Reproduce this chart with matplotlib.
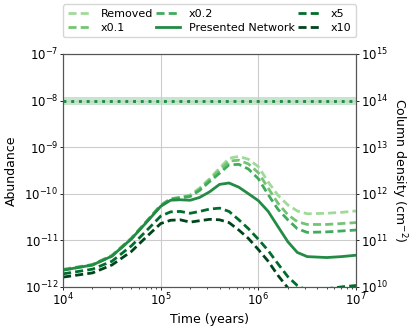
import matplotlib
matplotlib.use('Agg')
import matplotlib.pyplot as plt
import numpy as np

# time grid (years) and log10 abundances
time_yr = [1.0e4, 2.0e4, 3.16e4, 5.0e4, 7.1e4, 1.0e5, 1.26e5, 1.58e5, 2.0e5, 2.5e5,
           3.16e5, 4.0e5, 5.0e5, 6.3e5, 7.9e5, 1.0e6, 1.26e6, 1.58e6, 2.0e6, 2.5e6,
           3.16e6, 5.0e6, 7.1e6, 1.0e7]

removed = [-11.62, -11.52, -11.32, -10.95, -10.60, -10.24, -10.11, -10.08, -10.03, -9.88,
           -9.68, -9.45, -9.24, -9.20, -9.26, -9.42, -9.75, -10.03, -10.24, -10.37,
           -10.43, -10.42, -10.40, -10.37]
x0p1 = [-11.63, -11.52, -11.33, -10.96, -10.60, -10.25, -10.11, -10.08, -10.04, -9.90,
        -9.70, -9.50, -9.30, -9.28, -9.36, -9.55, -9.88, -10.20, -10.45, -10.60,
        -10.66, -10.66, -10.64, -10.62]
x0p2 = [-11.64, -11.53, -11.34, -10.97, -10.61, -10.26, -10.12, -10.09, -10.06, -9.93,
        -9.74, -9.56, -9.38, -9.37, -9.47, -9.68, -10.02, -10.33, -10.56, -10.75,
        -10.83, -10.82, -10.80, -10.78]
presented = [-11.64, -11.53, -11.34, -10.97, -10.62, -10.27, -10.14, -10.13, -10.14, -10.08,
             -9.96, -9.80, -9.77, -9.86, -10.00, -10.15, -10.38, -10.70, -11.03, -11.26,
             -11.35, -11.37, -11.35, -11.32]
x5 = [-11.72, -11.62, -11.45, -11.12, -10.80, -10.48, -10.39, -10.38, -10.42, -10.38,
      -10.33, -10.31, -10.38, -10.56, -10.75, -10.98, -11.22, -11.50, -11.78, -11.97,
      -12.08, -12.04, -12.00, -11.97]
x10 = [-11.79, -11.70, -11.53, -11.24, -10.93, -10.64, -10.57, -10.56, -10.61, -10.58,
       -10.55, -10.56, -10.62, -10.78, -10.96, -11.20, -11.45, -11.75, -12.02, -12.25,
       -12.38, -12.38, -12.33, -12.30]

labels = ['Removed', 'x0.1', 'x0.2', 'Presented Network', 'x5', 'x10']
observed = 1e-8
observed_lo, observed_hi = 0.8e-8, 1.2e-8
col_factor = 1e22  # abundance -> column density

colors = ['#a1d99b', '#74c476', '#41ab5d', '#238b45', '#006d2c', '#00441b']
dashed = [True, True, True, False, True, True]

fig = plt.figure(figsize=(4.15, 3.29), dpi=100)
ax = fig.add_axes([0.152, 0.128, 0.706, 0.708])

series = [removed, x0p1, x0p2, presented, x5, x10]
t = np.array(time_yr)
for s, lab, c, d in zip(series, labels, colors, dashed):
    if d:
        ax.plot(t, 10**np.array(s), color=c, lw=2, label=lab, dashes=(2.9, 1.5))
    else:
        ax.plot(t, 10**np.array(s), color=c, lw=2, label=lab)

ax.axhspan(observed_lo, observed_hi, color='#41ab5d', alpha=0.3, lw=0)
ax.axhline(observed, color='#238b45', ls=':', lw=2.1)

ax.set_xscale('log')
ax.set_yscale('log')
ax.set_xlim(1e4, 1e7)
ax.set_ylim(1e-12, 1e-7)
ax.grid(True, which='major', color='#cccccc', lw=0.8)
ax.yaxis.set_minor_locator(matplotlib.ticker.NullLocator())
ax.set_xlabel('Time (years)', fontsize=9, labelpad=3)
ax.set_ylabel('Abundance', fontsize=9, labelpad=5)
ax.tick_params(labelsize=8.5, length=2, width=0.6, pad=1.5)
ax.tick_params(which='minor', length=1.3, width=0.5)
for sp in ax.spines.values():
    sp.set_color('#555555')

ax2 = ax.twinx()
ax2.set_yscale('log')
ax2.set_ylim(1e-12 * col_factor, 1e-7 * col_factor)
ax2.yaxis.set_minor_locator(matplotlib.ticker.NullLocator())
ax2.set_ylabel('Column density (cm$^{-2}$)', rotation=270, labelpad=15, fontsize=9)
ax2.tick_params(labelsize=8.5, length=2, width=0.6, pad=1.5)
for sp in ax2.spines.values():
    sp.set_color('#555555')

ax.legend(loc='lower left', bbox_to_anchor=(0, 1.072, 1, 0.2), mode='expand',
          ncol=3, fontsize=8, handlelength=2.2, borderaxespad=0,
          labelspacing=0.35, columnspacing=1.0)

fig.savefig('out.png', dpi=100)
